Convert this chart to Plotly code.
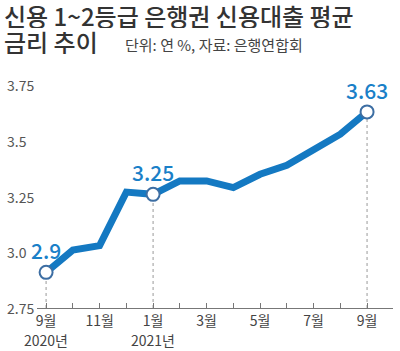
import plotly.graph_objects as go

# ---- data ----
month_idx = list(range(13))  # Sep 2020 .. Sep 2021
rates = [2.91, 3.01, 3.03, 3.27, 3.26, 3.32, 3.32, 3.29, 3.35, 3.39, 3.46, 3.53, 3.63]
tick_vals = [0, 2, 4, 6, 8, 10, 12]
tick_text = ["9월", "11월", "1월", "3월", "5월", "7월", "9월"]
year_idx = [0, 4]
year_text = ["2020년", "2021년"]
y_ticks = [3.75, 3.5, 3.25, 3.0, 2.75]
y_tick_text = ["3.75", "3.5", "3.25", "3.0", "2.75"]
hl_idx = [0, 4, 12]
hl_text = ["2.9", "3.25", "3.63"]

title1 = "신용 1~2등급 은행권 신용대출 평균"
title2 = "금리 추이"
subtitle = "단위: 연 %, 자료: 은행연합회"

# ---- geometry ----
W, H = 400, 351
ml, mr, mt, mb = 37, 7, 74, 43
pw = W - ml - mr
ph = H - mt - mb

def px_x(p):
    return (p - ml) / pw

def px_y(p):
    return (H - mb - p) / ph

BLUE = "#1479c2"
LBL = "#1a80c8"
FONT = "Noto Sans CJK KR, Roboto, sans-serif"

fig = go.Figure()

# dotted drop lines
for i in hl_idx:
    fig.add_trace(go.Scatter(
        x=[month_idx[i], month_idx[i]], y=[y_ticks[-1], rates[i]],
        mode="lines", line=dict(color="#9a9a9a", width=1, dash="dot"),
        hoverinfo="skip", showlegend=False))

# main line
fig.add_trace(go.Scatter(
    x=month_idx, y=rates, mode="lines",
    line=dict(color=BLUE, width=7), showlegend=False))

# highlighted markers
fig.add_trace(go.Scatter(
    x=[month_idx[i] for i in hl_idx], y=[rates[i] for i in hl_idx],
    mode="markers",
    marker=dict(size=13, color="white", line=dict(color="#3d6ea3", width=2)),
    showlegend=False))

annotations = []
for i, t in zip(hl_idx, hl_text):
    annotations.append(dict(
        x=month_idx[i], y=rates[i], text=t, showarrow=False,
        yshift=22, xanchor="center", yanchor="middle",
        font=dict(family=FONT, size=21, color=LBL, weight=500)))

for v, t in zip(y_ticks, y_tick_text):
    annotations.append(dict(
        x=px_x(5), xref="paper", y=v, yref="y", text=t, showarrow=False,
        xanchor="left", yanchor="middle",
        font=dict(family=FONT, size=14, color="#555555")))

for i, t in zip(year_idx, year_text):
    annotations.append(dict(
        x=month_idx[i], y=px_y(340), yref="paper", text=t, showarrow=False,
        xanchor="center", yanchor="middle",
        font=dict(family=FONT, size=14, color="#444444")))

annotations.append(dict(
    x=px_x(2), xref="paper", y=px_y(15), yref="paper", text=title1,
    showarrow=False, xanchor="left", yanchor="middle", height=26,
    font=dict(family=FONT, size=24, color="#333333", weight=500)))
annotations.append(dict(
    x=px_x(2), xref="paper", y=px_y(41), yref="paper", text=title2,
    showarrow=False, xanchor="left", yanchor="middle", height=26,
    font=dict(family=FONT, size=24, color="#333333", weight=500)))
annotations.append(dict(
    x=px_x(123), xref="paper", y=px_y(44), yref="paper", text=subtitle,
    showarrow=False, xanchor="left", yanchor="middle",
    font=dict(family=FONT, size=15, color="#444444")))

fig.update_layout(
    width=W, height=H,
    margin=dict(l=ml, r=mr, t=mt, b=mb),
    paper_bgcolor="white", plot_bgcolor="white",
    showlegend=False,
    annotations=annotations,
    xaxis=dict(
        range=[-0.34, 12.97], tickvals=tick_vals, ticktext=tick_text,
        ticks="inside", ticklen=5, tickcolor="#777777", tickwidth=1,
        minor=dict(dtick=1, tick0=0, ticks="inside", ticklen=5,
                   tickcolor="#777777", tickwidth=1),
        showline=True, linecolor="#777777", linewidth=1,
        showgrid=False, zeroline=False, fixedrange=True,
        tickfont=dict(family=FONT, size=14, color="#444444")),
    yaxis=dict(
        range=[2.75, 3.8], showticklabels=False, showgrid=False,
        zeroline=False, showline=False, ticks="", fixedrange=True),
)

fig.write_html("out.html")
